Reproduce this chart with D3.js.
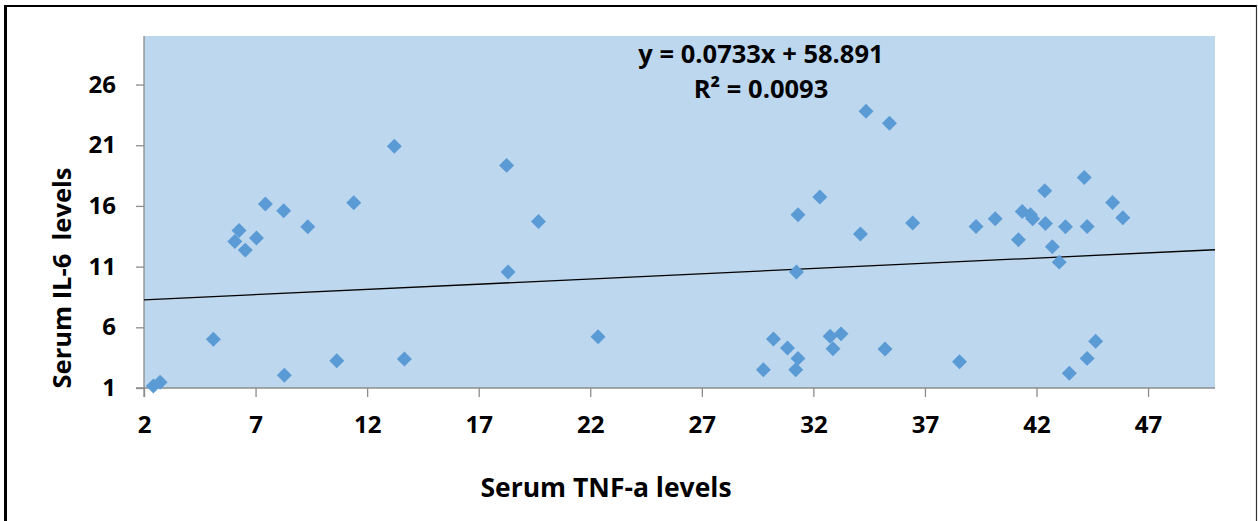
<!DOCTYPE html>
<html>
<head>
<meta charset="utf-8">
<script src="https://cdn.jsdelivr.net/npm/d3@7"></script>
<style>
  body { margin: 0; background: #fff; }
  text { font-family: "Open Sans", "DejaVu Sans", sans-serif; font-weight: bold; fill: #000; }
</style>
</head>
<body>
<script>
const WIDTH = 1258;
const HEIGHT = 521;

// TNF-a (x) / IL-6 (y) pairs
const tnf = [
  2.42, 2.72, 5.11, 6.07, 6.26, 6.54, 7.04, 7.44, 8.26, 8.29,
  9.34, 10.64, 11.40, 13.22, 13.67, 18.25, 18.32, 19.68, 22.35, 29.76,
  30.21, 30.84, 31.21, 31.31, 31.24, 31.31, 32.29, 32.75, 32.88, 33.24,
  34.11, 34.36, 35.21, 35.41, 36.45, 38.55, 39.29, 40.15, 41.19, 41.36,
  41.73, 41.83, 42.37, 42.40, 42.71, 43.02, 43.30, 43.47, 44.14, 44.27,
  44.27, 44.65, 45.41, 45.87
];
const il6 = [
  1.17, 1.47, 5.02, 13.07, 13.98, 12.36, 13.35, 16.16, 15.60, 2.05,
  14.28, 3.25, 16.26, 20.91, 3.39, 19.34, 10.55, 14.72, 5.23, 2.51,
  5.04, 4.30, 2.51, 3.44, 10.55, 15.27, 16.73, 5.27, 4.24, 5.46,
  13.68, 23.80, 4.22, 22.81, 14.59, 3.17, 14.31, 14.94, 13.21, 15.55,
  15.27, 14.94, 17.25, 14.55, 12.63, 11.37, 14.28, 2.21, 18.35, 14.31,
  3.44, 4.85, 16.29, 15.03
];

const xTicks = [2, 7, 12, 17, 22, 27, 32, 37, 42, 47];
const yTicks = [1, 6, 11, 16, 21, 26];
const xDomain = [2, 50];
const yDomain = [1, 30];

// linear trend as drawn in the chart
const trendSlope = 0.086;
const trendIntercept = 8.09;
const equationLines = ["y = 0.0733x + 58.891", "R² = 0.0093"];

const points = tnf.map((x, i) => ({ x: x, y: il6[i] }));

const margin = { top: 36, right: 43, bottom: 133, left: 144 };
const plotW = WIDTH - margin.left - margin.right;
const plotH = HEIGHT - margin.top - margin.bottom;

const svg = d3.select("body")
  .append("svg")
  .attr("width", WIDTH)
  .attr("height", HEIGHT);

// outer frame
svg.append("line").attr("x1", 5.5).attr("x2", 5.5).attr("y1", 5).attr("y2", HEIGHT)
  .attr("stroke", "#000").attr("stroke-width", 3);
svg.append("line").attr("x1", 4).attr("x2", 1257).attr("y1", 6).attr("y2", 6)
  .attr("stroke", "#000").attr("stroke-width", 2);
svg.append("line").attr("x1", 1256.5).attr("x2", 1256.5).attr("y1", 5).attr("y2", HEIGHT)
  .attr("stroke", "#333").attr("stroke-width", 1.2);

const g = svg.append("g")
  .attr("transform", `translate(${margin.left},${margin.top})`);

const x = d3.scaleLinear().domain(xDomain).range([0, plotW]);
const y = d3.scaleLinear().domain(yDomain).range([plotH, 0]);

g.append("rect")
  .attr("width", plotW)
  .attr("height", plotH)
  .attr("fill", "#bdd7ee");

const xAxis = g.append("g")
  .attr("transform", `translate(0,${plotH})`)
  .call(d3.axisBottom(x).tickValues(xTicks).tickSize(9).tickSizeOuter(0).tickPadding(20));

const yAxis = g.append("g")
  .call(d3.axisLeft(y).tickValues(yTicks).tickSize(8).tickSizeOuter(0).tickPadding(20));

[xAxis, yAxis].forEach(ax => {
  ax.select(".domain").attr("stroke", "#8c8c8c").attr("stroke-width", 1.3);
  ax.selectAll(".tick line").attr("stroke", "#8c8c8c").attr("stroke-width", 1.3);
  ax.selectAll(".tick text")
    .attr("font-family", null)
    .style("font-size", "24px")
    .attr("fill", "#000");
});
// left axis runs down past the bottom like the ticks
yAxis.select(".domain").attr("d", `M0,0V${plotH + 9}`);
xAxis.select(".domain").attr("d", `M-8,0H${plotW}`);
xAxis.selectAll(".tick text").attr("dy", "0.68em");

// trend line
g.append("line")
  .attr("x1", x(xDomain[0]))
  .attr("y1", y(trendSlope * xDomain[0] + trendIntercept))
  .attr("x2", x(xDomain[1]))
  .attr("y2", y(trendSlope * xDomain[1] + trendIntercept))
  .attr("stroke", "#000")
  .attr("stroke-width", 1.3);

// diamonds
const diamond = d3.symbol().type(d3.symbolSquare).size(112);
g.selectAll(".pt")
  .data(points)
  .enter()
  .append("path")
  .attr("class", "pt")
  .attr("d", diamond)
  .attr("transform", d => `translate(${x(d.x)},${y(d.y)}) rotate(45)`)
  .attr("fill", "#5b9bd5");

// equation label
svg.selectAll(".eq")
  .data(equationLines)
  .enter()
  .append("text")
  .attr("class", "eq")
  .attr("x", 761)
  .attr("y", (d, i) => 63 + i * 35)
  .attr("text-anchor", "middle")
  .style("font-size", "25.5px")
  .text(d => d);

// axis titles
svg.append("text")
  .attr("x", 606)
  .attr("y", 497)
  .attr("text-anchor", "middle")
  .style("font-size", "26.5px")
  .text("Serum TNF-a levels");

svg.append("text")
  .attr("transform", "translate(71,278) rotate(-90)")
  .attr("text-anchor", "middle")
  .style("font-size", "25.5px")
  .style("white-space", "pre")
  .text("Serum IL-6  levels");
</script>
</body>
</html>
